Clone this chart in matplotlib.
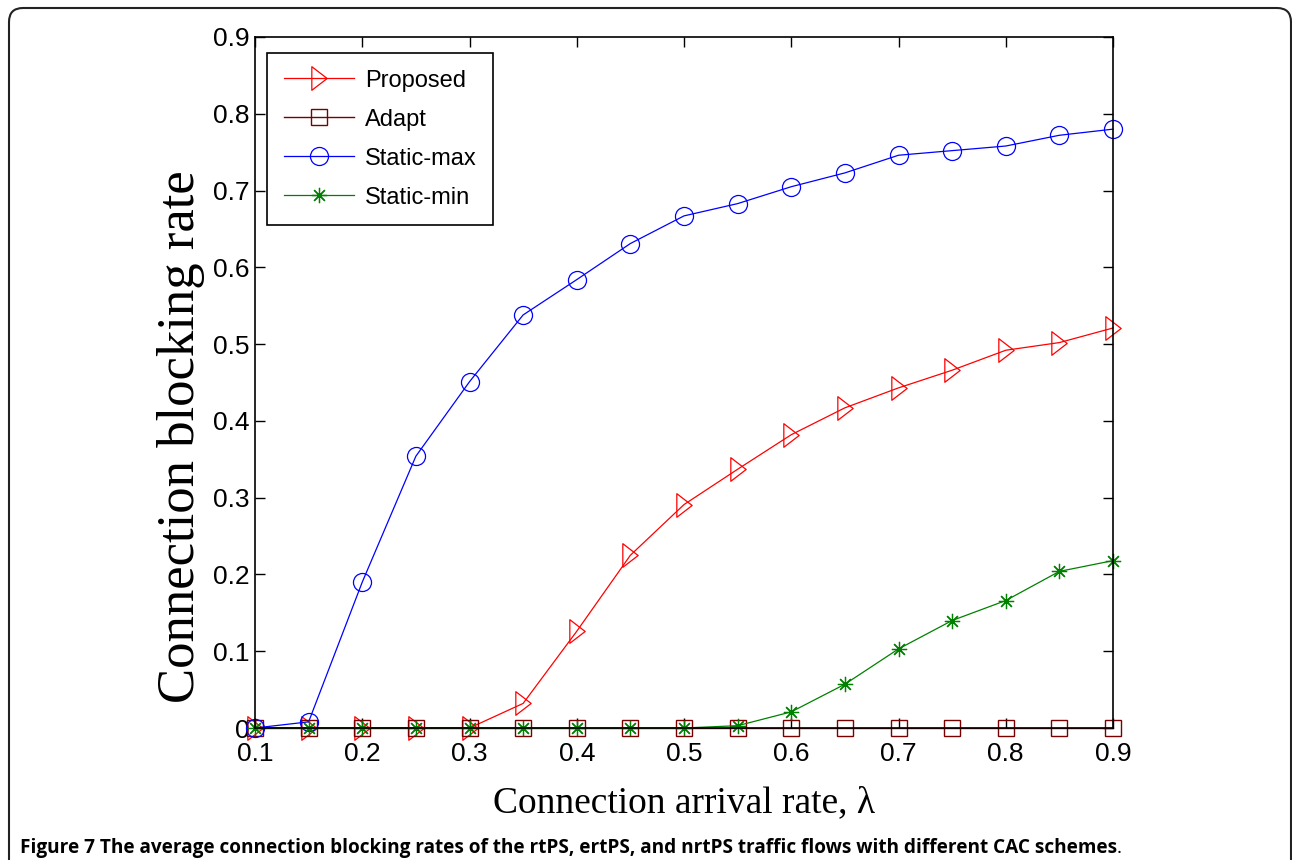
import numpy as np
import matplotlib
matplotlib.use('Agg')
import matplotlib.pyplot as plt
from matplotlib.path import Path
from matplotlib.patches import PathPatch

# data
lam = [0.1, 0.15, 0.2, 0.25, 0.3, 0.35, 0.4, 0.45, 0.5, 0.55, 0.6, 0.65, 0.7, 0.75, 0.8, 0.85, 0.9]
proposed = [0, 0, 0, 0, 0, 0.032, 0.126, 0.225, 0.291, 0.337, 0.382, 0.417, 0.443, 0.466, 0.492, 0.502, 0.521]
adapt = [0] * 17
static_max = [0, 0.008, 0.19, 0.354, 0.451, 0.538, 0.584, 0.631, 0.667, 0.683, 0.705, 0.723, 0.746, 0.752, 0.758, 0.772, 0.780]
static_min = [0, 0, 0, 0, 0, 0, 0, 0, 0, 0.003, 0.021, 0.057, 0.103, 0.140, 0.166, 0.204, 0.218]

xticks = [0.1, 0.2, 0.3, 0.4, 0.5, 0.6, 0.7, 0.8, 0.9]
yticks = [0, 0.1, 0.2, 0.3, 0.4, 0.5, 0.6, 0.7, 0.8, 0.9]
ytick_labels = ['0', '0.1', '0.2', '0.3', '0.4', '0.5', '0.6', '0.7', '0.8', '0.9']

W, H = 1292, 860
fig = plt.figure(figsize=(W / 100, H / 100), dpi=100)
ax = fig.add_axes([255 / W, 1 - 728 / H, (1113 - 255) / W, (728 - 37) / H])

# matlab style narrow right triangle
tri = Path([(-0.65, -1), (-0.65, 1), (0.65, 0), (-0.65, -1)],
           [Path.MOVETO, Path.LINETO, Path.LINETO, Path.CLOSEPOLY])

lw = 0.9
ax.plot(lam, proposed, color='red', lw=lw, marker=tri, ms=17, mfc='none', mec='red', mew=lw,
        label='Proposed', clip_on=False)
ax.plot(lam, adapt, color='#7a0000', lw=1.0, marker='s', ms=11.5, mfc='none', mec='#7a0000', mew=1.0,
        label='Adapt', clip_on=False)
ax.plot(lam, static_max, color='blue', lw=lw, marker='o', ms=13, mfc='none', mec='blue', mew=lw,
        label='Static-max', clip_on=False)
ax.plot(lam, static_min, color='green', lw=lw, marker=(8, 2, 0), ms=11, mec='green', mew=lw,
        label='Static-min', clip_on=False)

ax.set_xlim(0.1, 0.9)
ax.set_ylim(0, 0.9)
ax.set_xticks(xticks)
ax.set_xticklabels([str(t) for t in xticks])
ax.set_yticks(yticks)
ax.set_yticklabels(ytick_labels)
ax.tick_params(direction='in', length=7, width=1, top=True, right=True, labelsize=19)
ax.tick_params(axis='x', pad=10)
ax.tick_params(axis='y', pad=4)
for lab in ax.get_xticklabels() + ax.get_yticklabels():
    lab.set_family('Liberation Sans')
for s in ax.spines.values():
    s.set_linewidth(1.2)

ax.set_xlabel('Connection arrival rate, λ', family='Liberation Serif', fontsize=27, labelpad=14)
ax.set_ylabel('Connection blocking rate', family='Liberation Serif', fontsize=38)
ax.yaxis.set_label_coords(-0.058, 0.421)

leg = ax.legend(loc='upper left', bbox_to_anchor=(12 / 858, 1 - 16 / 691), borderaxespad=0,
                prop={'family': 'Liberation Sans', 'size': 17},
                handlelength=3.0, handletextpad=0.45, borderpad=0.7,
                labelspacing=0.72, fancybox=False, framealpha=1)
leg.get_frame().set_edgecolor('black')
leg.get_frame().set_linewidth(1.2)

# rounded outer frame, open at the bottom
r = 14
x0, x1, y0 = 9, 1291, 8
verts = [(x0, H), (x0, y0 + r), (x0, y0), (x0 + r, y0), (x1 - r, y0), (x1, y0), (x1, y0 + r), (x1, H)]
codes = [Path.MOVETO, Path.LINETO, Path.CURVE3, Path.CURVE3, Path.LINETO, Path.CURVE3, Path.CURVE3, Path.LINETO]
frame = Path([(x / W, 1 - y / H) for x, y in verts], codes)
fig.patches.append(PathPatch(frame, transform=fig.transFigure, fill=False, lw=1.5, ec='#222222'))

cap = fig.text(20 / W, 1 - 848 / H,
               'Figure 7 The average connection blocking rates of the rtPS, ertPS, and nrtPS traffic flows with different CAC schemes',
               family='Open Sans', fontweight='bold', fontsize=13.7, va='center', ha='left')
fig.canvas.draw()
bb = cap.get_window_extent()
fig.text(bb.x1 / W, 1 - 848 / H, '.', family='Open Sans', fontsize=13.7, va='center', ha='left')

fig.savefig('out.png', dpi=100)
